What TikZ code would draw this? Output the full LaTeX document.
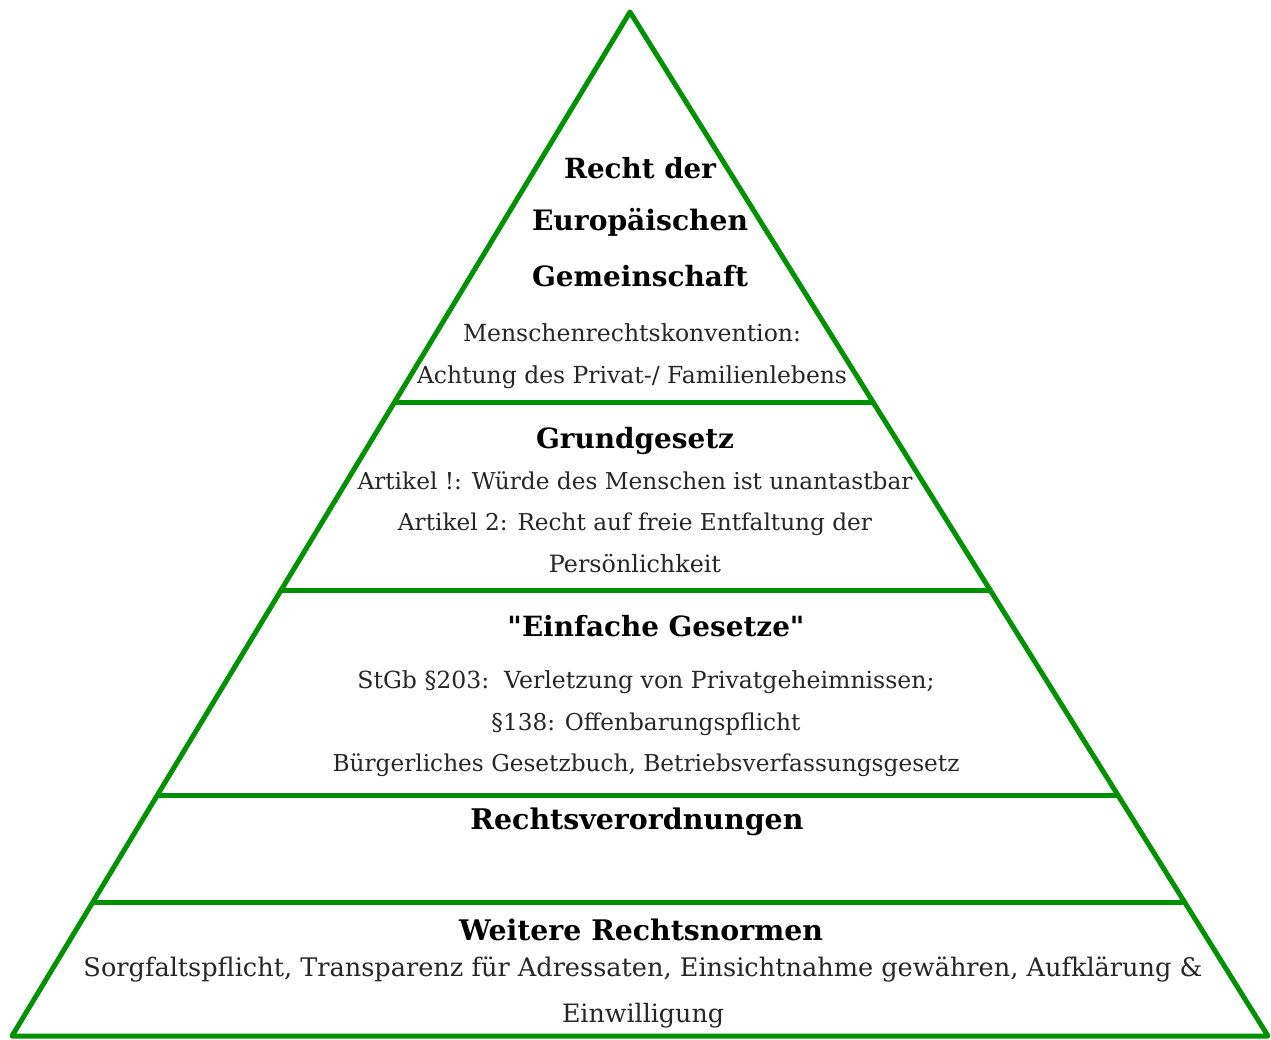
\documentclass[tikz,border=0pt]{standalone}
\usepackage{fontspec}
\usepackage{graphicx}
\setmainfont{DejaVu Serif}
\definecolor{pyrgreen}{RGB}{0,145,0}
\newcommand{\fitw}[2]{\resizebox{#1pt}{!}{#2}}
\newcommand{\sq}{\XeTeXglyph\XeTeXcharglyph"22\relax}
\tikzset{
  edge/.style={draw=pyrgreen, line width=5pt, line join=round, line cap=round},
  lbl/.style={inner sep=0pt, anchor=center, text=black!85, font=\fontsize{20}{24}\selectfont},
  head/.style={inner sep=0pt, anchor=center, text=black, font=\fontsize{24}{28}\selectfont\bfseries}
}
\begin{document}
\begin{tikzpicture}[x=1pt,y=-1pt]
\useasboundingbox (0,0) rectangle (1271,1040);
\fill[white] (0,0) rectangle (1271,1040);
% outline
\coordinate (apex) at (630,12);
\coordinate (bl) at (12,1036);
\coordinate (br) at (1268,1036);
\coordinate (l1) at (395,402);  \coordinate (r1) at (873,402);
\coordinate (l2) at (281,590);  \coordinate (r2) at (990,590);
\coordinate (l3) at (158,795);  \coordinate (r3) at (1117,795);
\coordinate (l4) at (95,902);   \coordinate (r4) at (1182,902);
\draw[edge] (apex) -- (br) -- (bl) -- cycle;
\draw[edge] (l1) -- (r1);
\draw[edge] (l2) -- (r2);
\draw[edge] (l3) -- (r3);
\draw[edge] (l4) -- (r4);
% level 1
\node[head] (t1a) at (640,168) {\fitw{152}{Recht der}};
\node[head] (t1b) at (640,222) {\fitw{216}{Europäischen}};
\node[head] (t1c) at (640,276) {\fitw{216}{Gemeinschaft}};
\node[lbl] (t1d) at (632,333) {\fitw{338}{Menschenrechtskonvention:}};
\node[lbl] (t1e) at (632,377) {\fitw{430}{Achtung des Privat-/ Familienlebens}};
% level 2
\node[head] (t2a) at (635,441) {\fitw{198}{Grundgesetz}};
\node[lbl] (t2b) at (635,481) {\fitw{555}{Artikel !: Würde des Menschen ist unantastbar}};
\node[lbl] (t2c) at (635,524) {\fitw{474}{Artikel 2: Recht auf freie Entfaltung der}};
\node[lbl] (t2d) at (635,564) {\fitw{172}{Persönlichkeit}};
% level 3
\node[head] (t3a) at (656,626) {\fitw{297}{\sq Einfache Gesetze\sq}};
\node[lbl] (t3b) at (646,682) {\fitw{577}{StGb §203:\ \ Verletzung von Privatgeheimnissen;}};
\node[lbl] (t3c) at (646,724) {\fitw{309}{§138: Offenbarungspflicht}};
\node[lbl] (t3d) at (646,765) {\fitw{627}{Bürgerliches Gesetzbuch, Betriebsverfassungsgesetz}};
% level 4
\node[head] (t4a) at (637,822) {\fitw{333}{Rechtsverordnungen}};
% level 5
\node[head] (t5a) at (641,930) {\fitw{364}{Weitere Rechtsnormen}};
\node[lbl] (t5b) at (643,970) {\fitw{1119}{Sorgfaltspflicht, Transparenz für Adressaten, Einsichtnahme gewähren, Aufklärung \&}};
\node[lbl] (t5c) at (643,1016) {\fitw{162}{Einwilligung}};
\end{tikzpicture}
\end{document}
